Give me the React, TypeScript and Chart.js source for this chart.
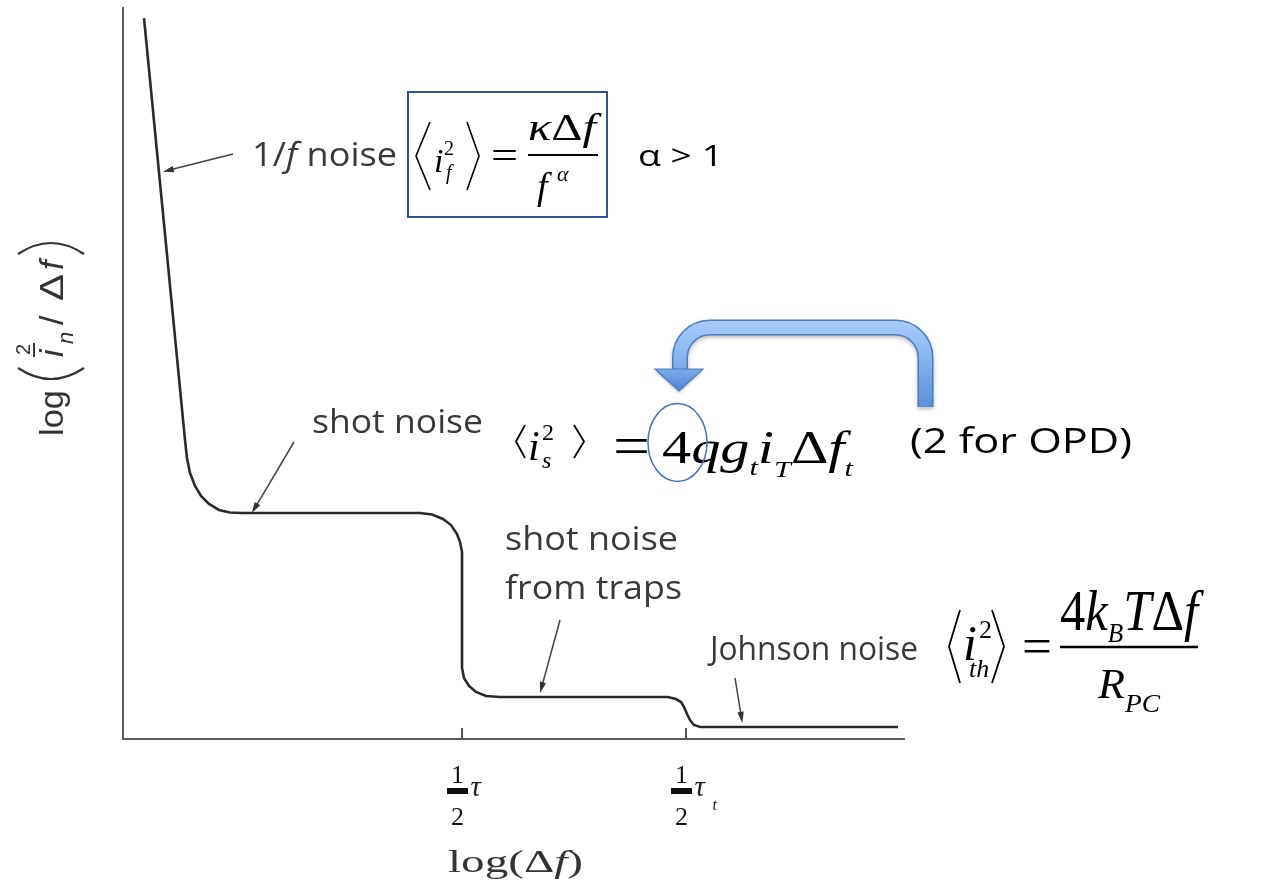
import React, { useEffect, useRef } from 'react';
import { Chart, registerables } from 'chart.js';

Chart.register(...registerables);

// log(Δf), in arbitrary decade units along the frequency axis
const logFreq = [0.269, 0.794, 0.819, 0.858, 0.922, 0.999, 1.101, 1.229, 1.370, 1.524, 3.803, 3.956, 4.097, 4.200, 4.277, 4.315, 4.341, 4.341, 4.366, 4.430, 4.520, 4.648, 4.827, 6.978, 7.080, 7.145, 7.183, 7.222, 7.260, 7.311, 7.388, 9.923];
// log(i_n²/Δf), noise current density at each frequency
const logNoise = [9.863, 4.090, 3.844, 3.639, 3.461, 3.324, 3.215, 3.133, 3.099, 3.092, 3.092, 3.071, 3.010, 2.927, 2.804, 2.695, 2.558, 0.971, 0.834, 0.725, 0.643, 0.588, 0.575, 0.575, 0.547, 0.506, 0.438, 0.342, 0.260, 0.192, 0.164, 0.164];

// corner frequencies marked on the x axis: 1/(2τ) and 1/(2τ_t)
const tickValues = [4.341, 7.209];
const tickSymbols = ['τ', 'τ'];
const tickSubscripts = ['', 't'];

// points on the curve that the callout arrows point at
const calloutX = [0.51, 1.65, 5.34, 7.93];
const calloutY = [7.76, 3.09, 0.63, 0.22];

const SANS = '"Open Sans", "Noto Sans", sans-serif';
const SERIF = '"Liberation Serif", "Times New Roman", serif';
const HELV = '"Liberation Sans", Arial, sans-serif';
const up = (s: number) => `${s}px ${SERIF}`;
const it = (s: number) => `italic ${s}px ${SERIF}`;

type Seg = [string, string, number?];

// draws a run of text pieces on one baseline, optionally stretched to a width
function runs(ctx: CanvasRenderingContext2D, segs: Seg[], x: number, y: number, width?: number, color = '#000') {
  ctx.save();
  ctx.fillStyle = color;
  ctx.textAlign = 'left';
  ctx.textBaseline = 'alphabetic';
  let total = 0;
  const ws = segs.map(([t, f]) => {
    ctx.font = f;
    const w = ctx.measureText(t).width;
    total += w;
    return w;
  });
  const sx = width ? width / total : 1;
  ctx.translate(x, y);
  ctx.scale(sx, 1);
  let cx = 0;
  segs.forEach(([t, f, dy], i) => {
    ctx.font = f;
    ctx.fillText(t, cx, dy || 0);
    cx += ws[i];
  });
  ctx.restore();
}

function polyline(ctx: CanvasRenderingContext2D, pts: number[][], width = 1.6, color = '#000') {
  ctx.save();
  ctx.strokeStyle = color;
  ctx.lineWidth = width;
  ctx.lineJoin = 'miter';
  ctx.beginPath();
  pts.forEach(([px, py], i) => (i ? ctx.lineTo(px, py) : ctx.moveTo(px, py)));
  ctx.stroke();
  ctx.restore();
}

function callout(ctx: CanvasRenderingContext2D, x0: number, y0: number, x1: number, y1: number) {
  const a = Math.atan2(y1 - y0, x1 - x0);
  const len = 11;
  const half = 3.2;
  ctx.save();
  ctx.strokeStyle = '#444';
  ctx.fillStyle = '#333';
  ctx.lineWidth = 1.5;
  ctx.beginPath();
  ctx.moveTo(x0, y0);
  ctx.lineTo(x1 - Math.cos(a) * len * 0.8, y1 - Math.sin(a) * len * 0.8);
  ctx.stroke();
  ctx.beginPath();
  ctx.moveTo(x1, y1);
  ctx.lineTo(x1 - Math.cos(a) * len - Math.sin(a) * half, y1 - Math.sin(a) * len + Math.cos(a) * half);
  ctx.lineTo(x1 - Math.cos(a) * len + Math.sin(a) * half, y1 - Math.sin(a) * len - Math.cos(a) * half);
  ctx.closePath();
  ctx.fill();
  ctx.restore();
}

const annotations = {
  id: 'noiseAnnotations',
  afterDraw(chart: any) {
    const { ctx, chartArea } = chart;
    const xs = chart.scales.x;
    const ys = chart.scales.y;
    const bottom = chartArea.bottom;
    const grey = '#3a3a3a';

    // corner-frequency ticks and their fraction labels
    tickValues.forEach((v, i) => {
      const px = xs.getPixelForValue(v);
      polyline(ctx, [[px, bottom], [px, bottom - 11]], 2, '#555');
      const cx = px - 4.5;
      ctx.save();
      ctx.fillStyle = '#111';
      ctx.textAlign = 'center';
      ctx.font = `26px ${SERIF}`;
      ctx.fillText('1', cx, 783);
      ctx.fillText('2', cx, 825);
      ctx.fillRect(cx - 10.5, 788, 21, 6);
      ctx.restore();
      runs(ctx, [[tickSymbols[i], it(29)]], cx + 13, 796, undefined, '#222');
      if (tickSubscripts[i]) runs(ctx, [[tickSubscripts[i], it(16)]], cx + 31, 810, undefined, '#222');
    });

    // x axis title
    runs(ctx, [['log(', up(31)], ['Δ', up(31)], ['f', it(31)], [')', up(31)]], 448, 872, 135, '#333');

    // y axis title, rotated
    ctx.save();
    ctx.translate(63, 436);
    ctx.rotate(-Math.PI / 2);
    runs(ctx, [['log', `34px ${HELV}`]], 0, 0, 46, '#333');
    ctx.strokeStyle = '#333';
    ctx.lineWidth = 2.2;
    ctx.beginPath();
    ctx.moveTo(68, -45);
    ctx.quadraticCurveTo(46, -12, 68, 21);
    ctx.stroke();
    runs(ctx, [['i', `italic 34px ${HELV}`]], 79, 0, undefined, '#333');
    polyline(ctx, [[79, -29], [93, -29]], 2, '#333');
    runs(ctx, [['2', `20px ${HELV}`]], 81, -33, undefined, '#333');
    runs(ctx, [['n', `italic 22px ${HELV}`]], 92, 10, undefined, '#333');
    runs(ctx, [['/', `34px ${HELV}`]], 111, 0, undefined, '#333');
    runs(ctx, [['Δ', `34px ${HELV}`]], 135, 0, 27, '#333');
    runs(ctx, [['f', `italic 34px ${HELV}`]], 166, 0, undefined, '#333');
    ctx.beginPath();
    ctx.moveTo(182, -45);
    ctx.quadraticCurveTo(204, -12, 182, 21);
    ctx.stroke();
    ctx.restore();

    // callout labels and their arrows
    runs(ctx, [['1/', `32px ${SANS}`], ['f', `italic 32px ${SANS}`], [' noise', `32px ${SANS}`]], 252, 166, 145, grey);
    runs(ctx, [['shot noise', `32px ${SANS}`]], 312, 433, 171, grey);
    runs(ctx, [['shot noise', `32px ${SANS}`]], 505, 550, 173, grey);
    runs(ctx, [['from traps', `32px ${SANS}`]], 505, 599, 177, grey);
    runs(ctx, [['Johnson noise', `32px ${SANS}`]], 710, 660, 208, grey);
    const tails = [[233, 154], [294, 442], [560, 620], [735, 678]];
    calloutX.forEach((v, i) => {
      callout(ctx, tails[i][0], tails[i][1], xs.getPixelForValue(v), ys.getPixelForValue(calloutY[i]));
    });

    // 1/f noise formula in its box
    ctx.save();
    ctx.strokeStyle = '#2f5597';
    ctx.lineWidth = 2;
    ctx.strokeRect(408, 92, 199, 125);
    ctx.restore();
    polyline(ctx, [[430, 122], [416, 156], [430, 190]], 1.6);
    polyline(ctx, [[467, 122], [479, 156], [467, 190]], 1.6);
    runs(ctx, [['i', it(34)]], 434, 172);
    runs(ctx, [['2', up(20)]], 444, 155);
    runs(ctx, [['f', it(20)]], 446, 179);
    runs(ctx, [['=', up(40)]], 491, 169, 27);
    polyline(ctx, [[528, 155], [598, 155]], 2);
    runs(ctx, [['κ', it(38)], ['Δ', up(38)], ['f', it(38)]], 528, 140, 68);
    runs(ctx, [['f', it(38)]], 537, 199);
    runs(ctx, [['α', it(22)]], 557, 181);
    runs(ctx, [['α > 1', `30px ${SANS}`]], 638, 166, 85);

    // shot noise formula
    polyline(ctx, [[525, 425], [516, 441.5], [525, 458]], 1.8);
    polyline(ctx, [[574, 425], [584, 441.5], [574, 458]], 1.8);
    runs(ctx, [['i', it(42)]], 528, 460);
    runs(ctx, [['2', up(24)]], 542, 440);
    runs(ctx, [['s', it(24)]], 542, 468);
    runs(ctx, [['=', up(56)]], 613, 465, 37);
    runs(ctx, [['4', up(46)], ['q', it(46)], ['g', it(46)], ['t', it(24), 12], ['i', it(46)], ['T', it(24), 14], ['Δ', up(46)], ['f', it(46)], ['t', it(24), 13]], 662, 463, 191);
    runs(ctx, [['(2 for OPD)', `34px ${SANS}`]], 910, 453, 222);

    // emphasis ring around the factor 4
    ctx.save();
    ctx.strokeStyle = '#4472c4';
    ctx.lineWidth = 1.5;
    ctx.beginPath();
    ctx.ellipse(677.5, 442.5, 29.5, 39, 0, 0, Math.PI * 2);
    ctx.stroke();
    ctx.restore();

    // bent blue arrow pointing at the factor 4
    const band = () => {
      ctx.beginPath();
      ctx.moveTo(925.5, 407);
      ctx.lineTo(925.5, 358);
      ctx.arcTo(925.5, 327.5, 895, 327.5, 30);
      ctx.lineTo(711, 327.5);
      ctx.arcTo(680, 327.5, 680, 358, 30);
      ctx.lineTo(680, 371);
    };
    const grad = ctx.createLinearGradient(0, 318, 0, 408);
    grad.addColorStop(0, '#a9cdfa');
    grad.addColorStop(0.35, '#8fbaf3');
    grad.addColorStop(1, '#5a8fd8');
    ctx.save();
    ctx.lineCap = 'butt';
    ctx.shadowColor = 'rgba(0,0,0,0.28)';
    ctx.shadowBlur = 4;
    ctx.shadowOffsetY = 2;
    band();
    ctx.strokeStyle = '#4a7ebb';
    ctx.lineWidth = 16;
    ctx.stroke();
    ctx.shadowColor = 'transparent';
    band();
    ctx.strokeStyle = grad;
    ctx.lineWidth = 13;
    ctx.stroke();
    const hg = ctx.createLinearGradient(0, 369, 0, 391);
    hg.addColorStop(0, '#7eaaec');
    hg.addColorStop(1, '#4f85d3');
    ctx.beginPath();
    ctx.moveTo(655, 369);
    ctx.lineTo(703, 369);
    ctx.lineTo(679, 391);
    ctx.closePath();
    ctx.shadowColor = 'rgba(0,0,0,0.25)';
    ctx.shadowBlur = 3;
    ctx.shadowOffsetY = 2;
    ctx.fillStyle = hg;
    ctx.fill();
    ctx.shadowColor = 'transparent';
    ctx.strokeStyle = '#4a7ebb';
    ctx.lineWidth = 1.2;
    ctx.stroke();
    ctx.restore();

    // Johnson (thermal) noise formula
    polyline(ctx, [[960, 610], [949, 646.5], [960, 683]], 1.8);
    polyline(ctx, [[992, 610], [1004, 646.5], [992, 683]], 1.8);
    runs(ctx, [['i', it(50)]], 963, 660);
    runs(ctx, [['2', up(26)]], 979, 638);
    runs(ctx, [['th', it(26)]], 969, 677);
    runs(ctx, [['=', up(50)]], 1022, 663, 30);
    polyline(ctx, [[1060, 647], [1198, 647]], 2.5);
    runs(ctx, [['4', up(56)], ['k', it(56)], ['B', it(28), 12], ['T', it(56)], ['Δ', up(56)], ['f', it(56)]], 1060, 630, 138);
    runs(ctx, [['R', it(42)], ['PC', it(26), 14]], 1098, 698, 62);
  },
};

export default function App() {
  const ref = useRef<HTMLCanvasElement>(null);

  useEffect(() => {
    if (!ref.current) return;
    const chart = new Chart(ref.current, {
      type: 'line',
      data: {
        datasets: [
          {
            data: logFreq.map((v, i) => ({ x: v, y: logNoise[i] })),
            borderColor: '#2a2a2a',
            borderWidth: 2.6,
            pointRadius: 0,
            tension: 0,
            fill: false,
          },
        ],
      },
      options: {
        animation: false,
        responsive: false,
        devicePixelRatio: 1,
        events: [],
        layout: { padding: { left: 123, right: 368, top: 8, bottom: 153 } },
        plugins: { legend: { display: false }, tooltip: { enabled: false } },
        scales: {
          x: {
            type: 'linear',
            min: 0,
            max: 10,
            ticks: { display: false },
            grid: { display: false, drawTicks: false },
            border: { display: true, color: '#5c5c5c', width: 2 },
            afterFit: (s: any) => {
              s.height = 0;
            },
          },
          y: {
            type: 'linear',
            min: 0,
            max: 10,
            ticks: { display: false },
            grid: { display: false, drawTicks: false },
            border: { display: true, color: '#5c5c5c', width: 2 },
            afterFit: (s: any) => {
              s.width = 0;
            },
          },
        },
      },
      plugins: [annotations],
    });
    return () => chart.destroy();
  }, []);

  return (
    <div style={{ position: 'fixed', left: 0, top: 0, width: 1272, height: 892, background: '#fff' }}>
      <canvas ref={ref} width={1272} height={892} style={{ display: 'block' }} />
    </div>
  );
}
